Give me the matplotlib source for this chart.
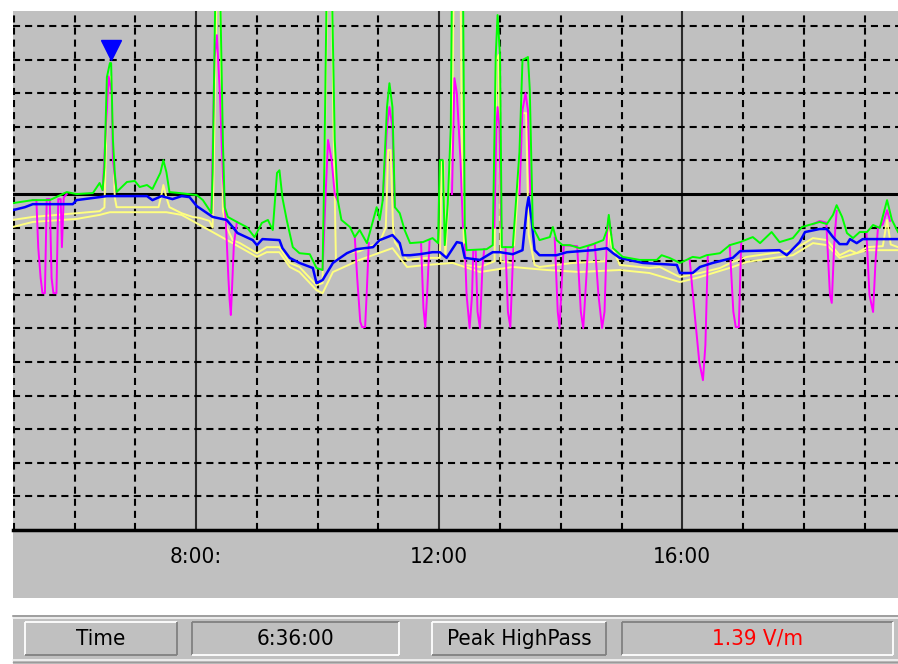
import numpy as np
import matplotlib
matplotlib.use("Agg")
import matplotlib.pyplot as plt
from matplotlib import font_manager, transforms
from matplotlib.patches import Rectangle

W, H = 898, 664
nan = np.nan

# time of day in hours, field strength in V/m
blue_t = [4.98, 5.18, 5.31, 5.97, 6.03, 6.41, 6.53, 7.19, 7.28, 7.43, 7.61, 7.76, 7.89, 8.01,
          8.06, 8.27, 8.50, 8.60, 8.68, 8.93, 9.00, 9.09, 9.37, 9.42, 9.54, 9.70, 9.92, 9.98,
          10.08, 10.25, 10.48, 10.64, 10.91, 11.02, 11.23, 11.35, 11.40, 11.52, 11.68, 11.89,
          12.01, 12.12, 12.29, 12.37, 12.42, 12.67, 12.88, 13.00, 13.21, 13.37, 13.44, 13.47,
          13.52, 13.57, 13.65, 13.93, 14.10, 14.53, 14.76, 14.86, 14.97, 15.35, 15.91, 15.96,
          16.17, 16.29, 16.50, 16.83, 16.95, 17.60, 17.72, 17.93, 18.02, 18.26, 18.38, 18.48,
          18.59, 18.71, 18.76, 18.87, 18.97, 19.55]
blue_v = [0.952, 0.961, 0.970, 0.970, 0.982, 0.991, 0.994, 0.994, 0.982, 0.994, 0.985, 0.994,
          0.991, 0.964, 0.958, 0.932, 0.923, 0.902, 0.884, 0.863, 0.848, 0.866, 0.863, 0.839,
          0.810, 0.795, 0.780, 0.735, 0.744, 0.795, 0.824, 0.836, 0.842, 0.863, 0.878, 0.854,
          0.818, 0.818, 0.821, 0.827, 0.827, 0.810, 0.857, 0.854, 0.810, 0.804, 0.827, 0.827,
          0.821, 0.833, 0.958, 0.991, 0.923, 0.833, 0.818, 0.818, 0.827, 0.833, 0.839, 0.824,
          0.810, 0.795, 0.789, 0.765, 0.765, 0.783, 0.795, 0.810, 0.830, 0.833, 0.818, 0.857,
          0.887, 0.896, 0.896, 0.872, 0.851, 0.851, 0.866, 0.854, 0.866, 0.866]

yel_hi_t = [4.98, 5.31, 6.03, 6.41, 6.49, 6.53, 6.56, 6.60, 6.63, 6.66, 6.69, 7.38, 7.43, 7.46,
            7.51, 7.56, 7.76, 7.94, 8.06, 8.22, 8.27, 8.30, 8.34, 8.39, 8.42, 8.44, 8.50, 8.60,
            8.72, 9.00, 9.16, 9.37, 9.54, 9.70, 9.98, 10.08, 10.13, 10.16, 10.23, 10.26, 10.30,
            10.48, 10.69, 11.02, 11.12, 11.16, 11.20, 11.24, 11.27, 11.47, 11.79, 12.01, 12.04,
            12.07, 12.10, 12.21, 12.24, 12.35, 12.38, 12.42, 12.67, 12.91, 12.94, 12.98, 13.01,
            13.21, 13.33, 13.37, 13.43, 13.47, 13.57, 13.65, 14.20, 14.73, 14.77, 14.80, 14.83,
            14.97, 15.46, 15.63, 15.96, 16.29, 16.62, 16.83, 17.06, 17.82, 18.15, 18.38, 18.59,
            18.76, 18.87, 19.04, 19.30, 19.37, 19.43, 19.55]
yel_hi_v = [0.923, 0.932, 0.943, 0.949, 0.96, 1.25, 1.348, 1.35, 1.16, 0.99, 0.961, 0.961, 1.00,
            1.027, 0.99, 0.961, 0.943, 0.932, 0.929, 0.92, 0.90, 1.20, 1.65, 1.65, 1.25, 0.95,
            0.902, 0.863, 0.854, 0.824, 0.842, 0.842, 0.795, 0.783, 0.729, 0.735, 1.30, 1.65,
            1.65, 1.20, 0.80, 0.824, 0.83, 0.857, 0.9, 1.131, 1.131, 0.9, 0.857, 0.804, 0.810,
            0.81, 1.10, 1.10, 0.81, 1.20, 1.65, 1.65, 1.0, 0.789, 0.783, 0.80, 1.40, 1.414, 0.80,
            0.795, 1.10, 1.241, 1.241, 0.88, 0.789, 0.783, 0.795, 0.80, 0.85, 0.902, 0.85, 0.789,
            0.780, 0.783, 0.753, 0.765, 0.780, 0.798, 0.813, 0.833, 0.869, 0.863, 0.818, 0.833,
            0.824, 0.842, 0.845, 0.923, 0.85, 0.842]

yel_lo_t = [4.98, 5.31, 6.03, 6.41, 6.58, 7.51, 7.76, 7.94, 8.27, 8.60, 9.00, 9.16, 9.37, 9.54,
            9.70, 9.98, 10.08, 10.25, 10.69, 11.23, 11.47, 11.79, 12.22, 12.67, 13.21, 13.77,
            14.31, 14.97, 15.46, 15.96, 16.29, 16.83, 17.06, 17.82, 18.15, 18.38, 18.59, 19.04,
            19.55]
yel_lo_v = [0.902, 0.917, 0.926, 0.938, 0.946, 0.946, 0.938, 0.920, 0.887, 0.854, 0.813, 0.827,
            0.827, 0.783, 0.768, 0.714, 0.705, 0.768, 0.804, 0.839, 0.783, 0.789, 0.795, 0.768,
            0.783, 0.774, 0.768, 0.774, 0.765, 0.738, 0.753, 0.783, 0.798, 0.818, 0.854, 0.848,
            0.810, 0.833, 0.833]

green_t = [4.98, 5.31, 5.59, 5.87, 6.03, 6.30, 6.41, 6.46, 6.49, 6.53, 6.58, 6.60, 6.63, 6.66,
           6.69, 6.86, 6.99, 7.07, 7.19, 7.28, 7.41, 7.46, 7.51, 7.56, 7.73, 8.01, 8.11, 8.22,
           8.25, 8.27, 8.32, 8.39, 8.44, 8.47, 8.52, 8.67, 8.83, 8.96, 9.08, 9.18, 9.26, 9.33,
           9.37, 9.42, 9.49, 9.59, 9.70, 9.87, 9.98, 10.08, 10.11, 10.15, 10.23, 10.28, 10.33,
           10.39, 10.53, 10.61, 10.69, 10.81, 10.97, 11.02, 11.07, 11.14, 11.18, 11.23, 11.27,
           11.35, 11.43, 11.52, 11.73, 11.89, 11.98, 12.01, 12.06, 12.09, 12.14, 12.19, 12.21,
           12.39, 12.42, 12.45, 12.78, 12.88, 12.93, 12.96, 13.00, 13.03, 13.21, 13.32, 13.37,
           13.46, 13.49, 13.54, 13.65, 13.82, 13.87, 13.93, 14.03, 14.15, 14.31, 14.53, 14.70,
           14.76, 14.79, 14.82, 14.86, 15.02, 15.30, 15.58, 15.66, 15.79, 15.96, 16.07, 16.17,
           16.29, 16.40, 16.62, 16.78, 16.95, 17.16, 17.28, 17.47, 17.60, 17.82, 17.97, 18.26,
           18.38, 18.48, 18.54, 18.63, 18.71, 18.81, 18.92, 19.04, 19.14, 19.25, 19.37, 19.45,
           19.55]
green_v = [0.973, 0.982, 0.982, 1.006, 1.000, 1.003, 1.033, 1.012, 1.080, 1.348, 1.39, 1.39,
           1.161, 1.063, 1.006, 1.036, 1.039, 1.021, 1.027, 1.015, 1.063, 1.101, 1.065, 1.006,
           1.003, 0.997, 0.982, 0.952, 0.943, 1.063, 1.65, 1.65, 1.152, 0.961, 0.932, 0.917,
           0.902, 0.872, 0.914, 0.923, 0.893, 1.063, 1.071, 0.988, 0.923, 0.842, 0.824, 0.821,
           0.780, 0.774, 1.101, 1.65, 1.65, 1.161, 0.982, 0.923, 0.902, 0.872, 0.893, 0.854,
           0.961, 0.923, 0.982, 1.259, 1.33, 1.259, 0.961, 0.943, 0.893, 0.854, 0.857, 0.869,
           0.854, 1.101, 1.101, 0.848, 0.97, 1.2, 1.65, 1.65, 0.9, 0.833, 0.836, 0.848, 1.414,
           1.533, 1.414, 0.842, 0.842, 1.125, 1.399, 1.408, 1.310, 0.902, 0.863, 0.872, 0.902,
           0.863, 0.848, 0.848, 0.839, 0.851, 0.863, 0.893, 0.938, 0.893, 0.839, 0.813, 0.804,
           0.804, 0.818, 0.810, 0.795, 0.804, 0.813, 0.810, 0.818, 0.824, 0.848, 0.857, 0.872,
           0.854, 0.887, 0.857, 0.869, 0.902, 0.917, 0.911, 0.938, 0.967, 0.932, 0.884, 0.869,
           0.887, 0.887, 0.908, 0.899, 0.982, 0.923, 0.887]

# highpass trace, only the stretches where it leaves the peak trace (nan = hidden)
mag_t = [5.31, 5.37, 5.40, 5.44, 5.47, 5.51, 5.54, 5.59, 5.62, 5.65, 5.70, 5.73, 5.77, 5.79, 5.82, 5.87, nan,
         6.46, 6.53, 6.56, 6.61, 6.63, 6.69, nan,
         8.25, 8.30, 8.34, 8.39, 8.44, 8.49, 8.53, 8.55, 8.57, 8.59, 8.62, 8.67, nan,
         10.08, 10.13, 10.17, 10.23, 10.28, 10.33, nan,
         10.61, 10.65, 10.70, 10.73, 10.78, 10.81, 10.84, nan,
         11.07, 11.14, 11.18, 11.23, 11.27, nan,
         11.70, 11.74, 11.77, 11.80, 11.84, nan,
         12.21, 12.25, 12.29, 12.35, 12.39, nan,
         12.42, 12.45, 12.50, 12.54, 12.56, 12.60, 12.63, 12.67, 12.71, 12.74, nan,
         12.91, 12.94, 12.96, 12.99, 13.02, nan,
         13.09, 13.13, 13.17, 13.22, nan,
         13.32, 13.37, 13.42, 13.46, 13.50, nan,
         13.90, 13.95, 13.98, 14.02, 14.05, 14.27, 14.33, 14.37, 14.42, 14.45, 14.56, 14.62,
         14.68, 14.72, 14.76, 14.79, 14.83, nan,
         16.12, 16.20, 16.28, 16.34, 16.38, 16.42, nan,
         16.78, 16.84, 16.88, 16.93, 16.97, nan,
         18.15, 18.26, 18.37, 18.43, 18.46, 18.50, 18.54, nan,
         19.03, 19.08, 19.14, 19.18, 19.22, 19.30, 19.37, 19.42]
mag_v = [0.982, 0.982, 0.842, 0.75, 0.705, 0.705, 0.985, 0.985, 0.75, 0.705, 0.705, 0.985, 0.985, 0.842, 0.99, 1.0, nan,
         1.012, 1.25, 1.35, 1.30, 1.10, 1.006, nan,
         0.943, 1.40, 1.473, 1.30, 1.05, 0.91, 0.75, 0.685, 0.64, 0.72, 0.85, 0.917, nan,
         0.774, 1.0, 1.161, 1.10, 1.0, 0.98, nan,
         0.872, 0.75, 0.62, 0.604, 0.604, 0.72, 0.854, nan,
         0.982, 1.20, 1.259, 1.20, 0.961, nan,
         0.857, 0.66, 0.604, 0.70, 0.86, nan,
         1.0, 1.345, 1.30, 1.10, 0.90, nan,
         0.85, 0.70, 0.601, 0.70, 0.833, 0.833, 0.65, 0.601, 0.78, 0.836, nan,
         0.90, 1.20, 1.259, 1.20, 0.90, nan,
         0.842, 0.65, 0.604, 0.842, nan,
         1.0, 1.25, 1.301, 1.25, 1.0, nan,
         0.87, 0.65, 0.601, 0.75, 0.848, 0.845, 0.65, 0.601, 0.75, 0.845, 0.852, 0.70,
         0.601, 0.65, 0.88, 0.93, 0.88, nan,
         0.808, 0.65, 0.50, 0.446, 0.55, 0.818, nan,
         0.848, 0.65, 0.604, 0.604, 0.857, nan,
         0.91, 0.92, 0.915, 0.70, 0.676, 0.85, 0.95, nan,
         0.887, 0.70, 0.649, 0.80, 0.90, 0.91, 0.952, 0.92]

tick_hours = [8, 12, 16]
tick_labels = ["8:00:", "12:00", "16:00"]
cursor_time = 6.6
cursor_value = 1.39
status_cells = ["Time", "6:36:00", "Peak HighPass", "1.39 V/m"]

GRAY = "#c0c0c0"
installed = {f.name for f in font_manager.fontManager.ttflist}
if "Liberation Sans Narrow" in installed:
    ui_font = dict(family=["Liberation Sans Narrow", "DejaVu Sans"], fontsize=17.5)
else:
    ui_font = dict(family=["DejaVu Sans"], fontstretch="condensed", fontsize=16)

fig = plt.figure(figsize=(W / 100, H / 100), dpi=100)
fig.patch.set_facecolor("white")

# pixel-space frame for the window chrome
frame = fig.add_axes([0, 0, 1, 1], zorder=0)
frame.set_xlim(0, W)
frame.set_ylim(H, 0)
frame.axis("off")
frame.add_patch(Rectangle((13, 530), W - 13, 68, color=GRAY, lw=0))
frame.add_patch(Rectangle((13, 615), W - 13, 49, color=GRAY, lw=0))
frame.plot([13, W], [615.5, 615.5], color="#9a9a9a", lw=1.2)
frame.plot([13, W], [617.5, 617.5], color="#f4f4f4", lw=1.2)
frame.plot([13, W], [659.5, 659.5], color="#f4f4f4", lw=1.2)
frame.plot([13, W], [661.5, 661.5], color="#9a9a9a", lw=1.0)


def bevel_box(x0, y0, x1, y1, raised):
    light, dark = "#ffffff", "#808080"
    tl, br = (light, dark) if raised else (dark, light)
    frame.plot([x0, x1], [y0, y0], color=tl, lw=1.3, solid_capstyle="butt")
    frame.plot([x0, x0], [y0, y1], color=tl, lw=1.3, solid_capstyle="butt")
    frame.plot([x0, x1], [y1, y1], color=br, lw=1.3, solid_capstyle="butt")
    frame.plot([x1, x1], [y0, y1], color=br, lw=1.3, solid_capstyle="butt")


boxes = [(25, 177, True), (192, 399, False), (432, 606, True), (622, 893, False)]
for (x0, x1, raised), label in zip(boxes, status_cells):
    bevel_box(x0, 622, x1, 655, raised)
    frame.text((x0 + x1) / 2, 639, label, ha="center", va="center",
               color="#ff0000" if "V/m" in label else "black", **ui_font)

# plot area
ax = fig.add_axes([13 / W, 1 - 530 / H, (W - 13) / W, (530 - 11) / H], zorder=1)
ax.set_facecolor(GRAY)
ax.set_xlim(4.985, 19.55)
ax.set_ylim(0, 1.545)

for h in range(5, 20):
    if h in tick_hours:
        ax.axvline(h, color="#2a2a2a", lw=1.5, zorder=1)
    else:
        ax.axvline(h, color="black", lw=1.5, ls=(0, (3.4, 2.4)), zorder=1)
for k in range(1, 16):
    if k == 10:
        ax.axhline(k / 10, color="black", lw=2.2, zorder=1)
    else:
        ax.axhline(k / 10, color="black", lw=1.5, ls=(0, (3.4, 2.4)), zorder=1)

ax.plot(yel_lo_t, yel_lo_v, color="#ffff80", lw=1.4, zorder=2)
ax.plot(yel_hi_t, yel_hi_v, color="#ffff80", lw=1.4, zorder=2)
ax.plot(mag_t, mag_v, color="#ff00ff", lw=1.4, zorder=3)
ax.plot(blue_t, blue_v, color="#0000ff", lw=1.8, zorder=4)
ax.plot(green_t, green_v, color="#00ff00", lw=1.4, zorder=5)

# cursor marker sitting on top of the selected peak
lift = transforms.offset_copy(ax.transData, fig=fig, x=0, y=13, units="dots")
ax.plot([cursor_time], [cursor_value], marker="v", ms=15, color="#0000ff",
        transform=lift, clip_on=False, zorder=6)

for side in ["top", "left", "right"]:
    ax.spines[side].set_visible(False)
ax.spines["bottom"].set_linewidth(2.5)
ax.spines["bottom"].set_color("black")
ax.set_yticks([])
ax.set_xticks(tick_hours)
ax.set_xticklabels(tick_labels, **ui_font)
ax.tick_params(axis="x", length=0, pad=12)

fig.savefig("out.png", dpi=100)
